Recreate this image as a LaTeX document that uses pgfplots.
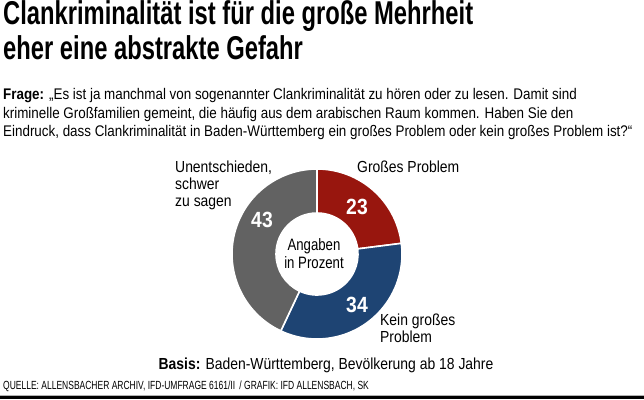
\documentclass[border=0pt]{standalone}
\usepackage{pgfplots}
\usepackage{pgfplotstable}
\pgfplotsset{compat=1.18}
\usepackage{fontspec}
\setmainfont{Liberation Sans}[FakeStretch=0.87]
\newfontfamily\titlefont{Liberation Sans}[FakeStretch=0.72]
\newfontfamily\numfont{Liberation Sans}[FakeStretch=0.88]
\newfontfamily\srcfont{Liberation Sans}[FakeStretch=0.72]
\newfontfamily\centerfont{Liberation Sans}[FakeStretch=0.8]
\definecolor{redc}{RGB}{152,22,14}
\definecolor{bluec}{RGB}{30,68,115}
\definecolor{grayc}{RGB}{98,98,98}

\pgfplotstableread{
label value
Gross 23
Kein 34
Unent 43
}\datatable

\begin{document}
\begin{tikzpicture}[x=1pt,y=1pt]
\path[use as bounding box, fill=white] (0,0) rectangle (644,399);
% title
\node[anchor=base west, inner sep=0pt, font=\titlefont\bfseries\fontsize{33}{38}\selectfont] at (3,374) {Clankriminalität ist für die große Mehrheit};
\node[anchor=base west, inner sep=0pt, font=\titlefont\bfseries\fontsize{33}{38}\selectfont] at (3,339) {eher eine abstrakte Gefahr};
% question
\begin{scope}[every node/.style={anchor=base west, inner sep=0pt, font=\fontsize{15.4}{18}\selectfont}]
\node at (3,299) {\textbf{Frage:} „Es ist ja manchmal von sogenannter Clankriminalität zu hören oder zu lesen. Damit sind};
\node at (3,280.5) {kriminelle Großfamilien gemeint, die häufig aus dem arabischen Raum kommen. Haben Sie den};
\node at (3,262) {Eindruck, dass Clankriminalität in Baden-Württemberg ein großes Problem oder kein großes Problem ist?“};
\end{scope}
% donut from data
\pgfplotstablegetelem{0}{value}\of\datatable \edef\va{\pgfplotsretval}
\pgfplotstablegetelem{1}{value}\of\datatable \edef\vb{\pgfplotsretval}
\pgfplotstablegetelem{2}{value}\of\datatable \edef\vc{\pgfplotsretval}
\pgfmathsetmacro\aA{90}
\pgfmathsetmacro\aB{90-3.6*\va}
\pgfmathsetmacro\aC{\aB-3.6*\vb}
\pgfmathsetmacro\aD{\aC-3.6*\vc}
\begin{axis}[at={(317pt,145pt)}, anchor=origin, scale only axis, width=170pt, height=170pt,
  xmin=-1, xmax=1, ymin=-1, ymax=1, hide axis, clip=false]
\fill[redc, draw=white, line width=1.6pt] ([shift={(\aA:85pt)}]axis cs:0,0) arc[start angle=\aA, end angle=\aB, radius=85pt] -- ([shift={(\aB:41pt)}]axis cs:0,0) arc[start angle=\aB, end angle=\aA, radius=41pt] -- cycle;
\fill[bluec, draw=white, line width=1.6pt] ([shift={(\aB:85pt)}]axis cs:0,0) arc[start angle=\aB, end angle=\aC, radius=85pt] -- ([shift={(\aC:41pt)}]axis cs:0,0) arc[start angle=\aC, end angle=\aB, radius=41pt] -- cycle;
\fill[grayc, draw=white, line width=1.6pt] ([shift={(\aC:85pt)}]axis cs:0,0) arc[start angle=\aC, end angle=\aD, radius=85pt] -- ([shift={(\aD:41pt)}]axis cs:0,0) arc[start angle=\aD, end angle=\aC, radius=41pt] -- cycle;
\end{axis}
% value labels
\begin{scope}[every node/.style={inner sep=0pt, text=white, font=\numfont\bfseries\fontsize{22}{24}\selectfont}]
\node at (357,192) {\va};
\node at (357,94) {\vb};
\node at (262,179) {\vc};
\end{scope}
% category labels
\begin{scope}[every node/.style={anchor=base west, inner sep=0pt, font=\fontsize{16}{18}\selectfont}]
\node at (175,226) {Unentschieden,};
\node at (175,209) {schwer};
\node at (175,192) {zu sagen};
\node at (357,226) {Großes Problem};
\node at (380,74) {Kein großes};
\node at (380,57) {Problem};
\end{scope}
\node[align=center, inner sep=0pt, font=\centerfont\fontsize{16.5}{18}\selectfont] at (314,145.5) {Angaben\\in Prozent};
\node[anchor=base, inner sep=0pt, font=\fontsize{16}{18}\selectfont] at (326,30) {\textbf{Basis:} Baden-Württemberg, Bevölkerung ab 18 Jahre};
\node[anchor=base west, inner sep=0pt, font=\srcfont\fontsize{11.8}{14}\selectfont] at (3,10) {QUELLE: ALLENSBACHER ARCHIV, IFD-UMFRAGE 6161/II \,/ GRAFIK: IFD ALLENSBACH, SK};
\fill[black] (0,0) rectangle (644,3);
\fill[gray!60] (0,3) rectangle (644,4);
\end{tikzpicture}
\end{document}
